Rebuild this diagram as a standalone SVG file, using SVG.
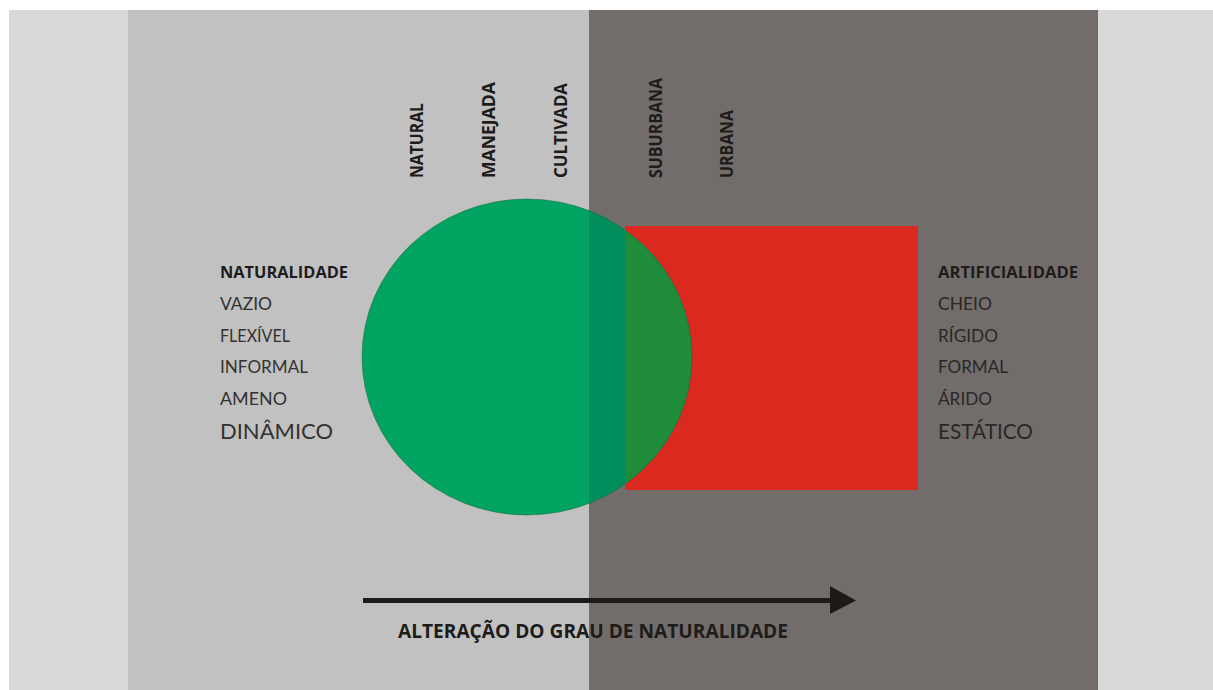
<svg xmlns="http://www.w3.org/2000/svg" width="1213" height="690" viewBox="0 0 1213 690">
<style>
.head{font-family:"Open Sans","Liberation Sans",sans-serif;font-weight:700;font-size:16px;fill:#1e1c1b}
.lite{font-family:Lato,"Liberation Sans",sans-serif;font-weight:400;font-size:17px}
.big{font-family:Lato,"Liberation Sans",sans-serif;font-weight:400;font-size:21px}
.l{fill:#333232}
.r{fill:#2a2726}
.vert{font-family:"Open Sans","Liberation Sans",sans-serif;font-weight:700;font-size:18px;fill:#1e1c1b}
</style>
<defs>
<clipPath id="cc"><ellipse cx="527" cy="357" rx="165" ry="158"/></clipPath>
</defs>
<rect width="1213" height="690" fill="#ffffff"/>
<rect x="9" y="10" width="1204" height="680" fill="#d9d9d9"/>
<rect x="128" y="10" width="461" height="680" fill="#c1c1c1"/>
<rect x="589" y="10" width="509" height="680" fill="#726d6a"/>
<g id="artificialidade-rect">
<rect x="625" y="226" width="293" height="264" fill="#dc291f"/>
</g>
<g id="naturalidade-circle">
<ellipse cx="527" cy="357" rx="165" ry="158" fill="#00a35f"/>
<g clip-path="url(#cc)">
<rect x="589" y="150" width="36" height="420" fill="#008e5c"/>
<rect x="625" y="226" width="293" height="264" fill="#1e8c3a"/>
</g>
<ellipse cx="527" cy="357" rx="165" ry="158" fill="none" stroke="#1b5e3c" stroke-width="0.8" stroke-opacity="0.6"/>
</g>
<g id="scale-labels">
<text class="vert" transform="translate(423,178) rotate(-90)" textLength="75" lengthAdjust="spacingAndGlyphs">NATURAL</text>
<text class="vert" transform="translate(495,178) rotate(-90)" textLength="96" lengthAdjust="spacingAndGlyphs">MANEJADA</text>
<text class="vert" transform="translate(567,178) rotate(-90)" textLength="95" lengthAdjust="spacingAndGlyphs">CULTIVADA</text>
<text class="vert" transform="translate(662,178) rotate(-90)" textLength="100" lengthAdjust="spacingAndGlyphs">SUBURBANA</text>
<text class="vert" transform="translate(733,178) rotate(-90)" textLength="68" lengthAdjust="spacingAndGlyphs">URBANA</text>
</g>
<g id="naturalidade-list">
<text class="head" x="220" y="278" textLength="128" lengthAdjust="spacingAndGlyphs">NATURALIDADE</text>
<text class="lite l" x="220" y="310" textLength="52" lengthAdjust="spacingAndGlyphs">VAZIO</text>
<text class="lite l" x="220" y="342" textLength="70" lengthAdjust="spacingAndGlyphs">FLEXÍVEL</text>
<text class="lite l" x="220" y="373" textLength="88" lengthAdjust="spacingAndGlyphs">INFORMAL</text>
<text class="lite l" x="220" y="405" textLength="67" lengthAdjust="spacingAndGlyphs">AMENO</text>
<text class="big l" x="220" y="439" textLength="113" lengthAdjust="spacingAndGlyphs">DINÂMICO</text>
</g>
<g id="artificialidade-list">
<text class="head" x="938" y="278" textLength="140" lengthAdjust="spacingAndGlyphs">ARTIFICIALIDADE</text>
<text class="lite r" x="938" y="310" textLength="54" lengthAdjust="spacingAndGlyphs">CHEIO</text>
<text class="lite r" x="938" y="342" textLength="60" lengthAdjust="spacingAndGlyphs">RÍGIDO</text>
<text class="lite r" x="938" y="373" textLength="70" lengthAdjust="spacingAndGlyphs">FORMAL</text>
<text class="lite r" x="938" y="405" textLength="54" lengthAdjust="spacingAndGlyphs">ÁRIDO</text>
<text class="big r" x="938" y="439" textLength="95" lengthAdjust="spacingAndGlyphs">ESTÁTICO</text>
</g>
<g id="connectors">
<line x1="363" y1="600.5" x2="832" y2="600.5" stroke="#1e1a18" stroke-width="5"/>
<polygon points="830,586 856,600.5 830,614" fill="#1e1a18"/>
</g>
<g id="caption">
<text class="head" x="398" y="638" textLength="390" lengthAdjust="spacingAndGlyphs" style="font-size:19px">ALTERAÇÃO DO GRAU DE NATURALIDADE</text>
</g>
</svg>
